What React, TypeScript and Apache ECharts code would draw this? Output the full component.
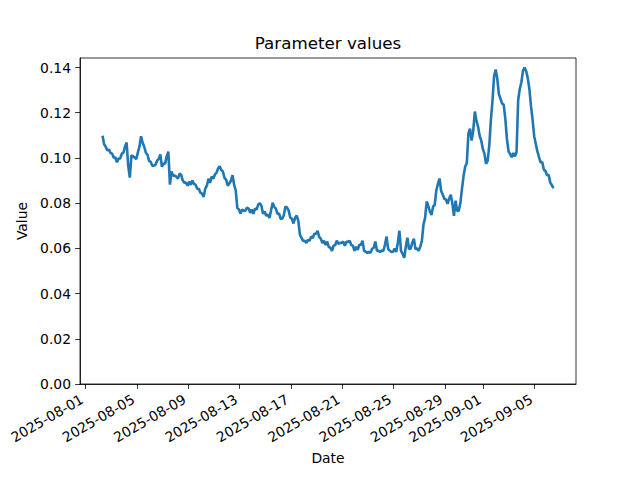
import React, { useEffect, useRef } from "react";
import * as echarts from "echarts";

// Sampled every 3 hours, starting 2025-08-02 08:00 (UTC)
const seriesStart = "2025-08-02T08:00:00Z";
const stepHours = 3;

const values: number[] = [
  0.1098, 0.1060, 0.1049, 0.1033, 0.1037, 0.1022, 0.1019, 0.1001,
  0.1002, 0.0981, 0.0997, 0.0998, 0.1019, 0.1023, 0.1050, 0.1068,
  0.0965, 0.0913, 0.1011, 0.1008, 0.1002, 0.0995, 0.1024, 0.1050,
  0.1096, 0.1067, 0.1049, 0.1023, 0.1014, 0.0987, 0.0983, 0.0965,
  0.0966, 0.0970, 0.0988, 0.0996, 0.1016, 0.0961, 0.0975, 0.0974,
  0.1008, 0.1028, 0.0882, 0.0940, 0.0921, 0.0922, 0.0917, 0.0908,
  0.0931, 0.0925, 0.0900, 0.0890, 0.0891, 0.0877, 0.0895, 0.0881,
  0.0900, 0.0885, 0.0882, 0.0863, 0.0864, 0.0846, 0.0842, 0.0828,
  0.0864, 0.0877, 0.0908, 0.0890, 0.0918, 0.0908, 0.0927, 0.0934,
  0.0953, 0.0963, 0.0947, 0.0940, 0.0912, 0.0904, 0.0877, 0.0887,
  0.0899, 0.0924, 0.0881, 0.0856, 0.0778, 0.0772, 0.0754, 0.0772,
  0.0766, 0.0767, 0.0780, 0.0776, 0.0757, 0.0772, 0.0753, 0.0776,
  0.0771, 0.0794, 0.0800, 0.0789, 0.0753, 0.0763, 0.0744, 0.0749,
  0.0735, 0.0767, 0.0802, 0.0784, 0.0776, 0.0753, 0.0754, 0.0731,
  0.0731, 0.0748, 0.0785, 0.0780, 0.0767, 0.0736, 0.0731, 0.0710,
  0.0735, 0.0745, 0.0722, 0.0661, 0.0646, 0.0633, 0.0634, 0.0624,
  0.0638, 0.0633, 0.0652, 0.0646, 0.0665, 0.0664, 0.0677, 0.0651,
  0.0643, 0.0624, 0.0634, 0.0615, 0.0630, 0.0606, 0.0603, 0.0589,
  0.0612, 0.0615, 0.0634, 0.0620, 0.0625, 0.0624, 0.0630, 0.0611,
  0.0630, 0.0628, 0.0634, 0.0615, 0.0612, 0.0589, 0.0607, 0.0593,
  0.0616, 0.0615, 0.0634, 0.0589, 0.0585, 0.0580, 0.0585, 0.0580,
  0.0599, 0.0602, 0.0630, 0.0589, 0.0590, 0.0584, 0.0590, 0.0589,
  0.0616, 0.0652, 0.0597, 0.0590, 0.0584, 0.0585, 0.0599, 0.0584,
  0.0625, 0.0678, 0.0589, 0.0576, 0.0558, 0.0607, 0.0647, 0.0597,
  0.0599, 0.0624, 0.0643, 0.0597, 0.0599, 0.0589, 0.0607, 0.0633,
  0.0705, 0.0735, 0.0807, 0.0788, 0.0763, 0.0748, 0.0785, 0.0792,
  0.0856, 0.0885, 0.0909, 0.0854, 0.0838, 0.0819, 0.0816, 0.0797,
  0.0820, 0.0837, 0.0798, 0.0744, 0.0811, 0.0766, 0.0767, 0.0801,
  0.0864, 0.0921, 0.0962, 0.0978, 0.1108, 0.1129, 0.1077, 0.1120,
  0.1205, 0.1165, 0.1139, 0.1098, 0.1077, 0.1040, 0.1019, 0.0974,
  0.0988, 0.1054, 0.1166, 0.1253, 0.1361, 0.1391, 0.1350, 0.1282,
  0.1262, 0.1241, 0.1235, 0.1174, 0.1084, 0.1029, 0.1017, 0.1003,
  0.1022, 0.1007, 0.1026, 0.1255, 0.1305, 0.1335, 0.1385, 0.1400,
  0.1384, 0.1353, 0.1305, 0.1229, 0.1168, 0.1096, 0.1062, 0.1029,
  0.1004, 0.0980, 0.0982, 0.0949, 0.0942, 0.0923, 0.0925, 0.0892,
  0.0880, 0.0866,
];

const xTickLabels = [
  "2025-08-01", "2025-08-05", "2025-08-09", "2025-08-13", "2025-08-17",
  "2025-08-21", "2025-08-25", "2025-08-29", "2025-09-01", "2025-09-05",
];
const yTicks = [0, 0.02, 0.04, 0.06, 0.08, 0.1, 0.12, 0.14];

const FONT = "DejaVu Sans";

export default function App() {
  const ref = useRef<HTMLDivElement>(null);
  useEffect(() => {
    if (!ref.current) return;
    const chart = echarts.init(ref.current, null, { renderer: "svg" });
    const t0 = Date.parse(seriesStart);
    const stepMs = stepHours * 3600 * 1000;
    const data = values.map((v, i) => [t0 + i * stepMs, v]);
    const tEnd = t0 + (values.length - 1) * stepMs;
    const span = tEnd - t0;
    const xMin = t0 - 0.05 * span;
    const xMax = tEnd + 0.05 * span;
    const vMax = Math.max(...values);
    const vMin = Math.min(...values);
    const yMax = vMax + 0.05 * (vMax - vMin);
    const xTicks = xTickLabels.map((d) => Date.parse(d + "T00:00:00Z"));

    chart.setOption({
      animation: false,
      backgroundColor: "#ffffff",
      grid: {
        left: 80,
        right: 64,
        top: 58,
        bottom: 96,
        containLabel: false,
        show: true,
        borderColor: "#000000",
        borderWidth: 0.8,
        backgroundColor: "transparent",
      },
      graphic: [
        {
          type: "text",
          x: 328,
          y: 51,
          style: {
            text: "Parameter values",
            fontFamily: FONT,
            fontSize: 16.7,
            fill: "#000000",
            textAlign: "center",
            textVerticalAlign: "bottom",
          },
        },
      ],
      xAxis: {
        type: "value",
        min: xMin,
        max: xMax,
        name: "Date",
        nameLocation: "middle",
        nameGap: 66,
        nameTextStyle: { fontFamily: FONT, fontSize: 13.9, color: "#000" },
        axisLine: { show: true, lineStyle: { color: "#000", width: 0.8 } },
        axisTick: {
          show: true,
          length: 4.9,
          lineStyle: { color: "#000", width: 0.8 },
          customValues: xTicks,
        },
        axisLabel: {
          customValues: xTicks,
          rotate: 30,
          margin: 12,
          padding: [0, 4, 0, 0],
          fontFamily: FONT,
          fontSize: 13.9,
          color: "#000",
          formatter: (v: number) => new Date(v).toISOString().slice(0, 10),
        },
        splitLine: { show: false },
      },
      yAxis: {
        type: "value",
        min: 0,
        max: yMax,
        name: "Value",
        nameLocation: "middle",
        nameGap: 47,
        nameTextStyle: { fontFamily: FONT, fontSize: 13.9, color: "#000" },
        axisLine: { show: true, lineStyle: { color: "#000", width: 0.8 } },
        axisTick: {
          show: true,
          length: 4.9,
          lineStyle: { color: "#000", width: 0.8 },
          customValues: yTicks,
        },
        axisLabel: {
          customValues: yTicks,
          margin: 9,
          fontFamily: FONT,
          fontSize: 13.9,
          color: "#000",
          formatter: (v: number) => v.toFixed(2),
        },
        splitLine: { show: false },
      },
      series: [
        {
          type: "line",
          data,
          showSymbol: false,
          symbol: "none",
          lineStyle: { color: "#1f77b4", width: 2.6 },
          itemStyle: { color: "#1f77b4" },
        },
      ],
    });
    return () => chart.dispose();
  }, []);
  return (
    <div
      ref={ref}
      style={{ position: "fixed", left: 0, top: 0, width: 640, height: 480, background: "#fff" }}
    />
  );
}
